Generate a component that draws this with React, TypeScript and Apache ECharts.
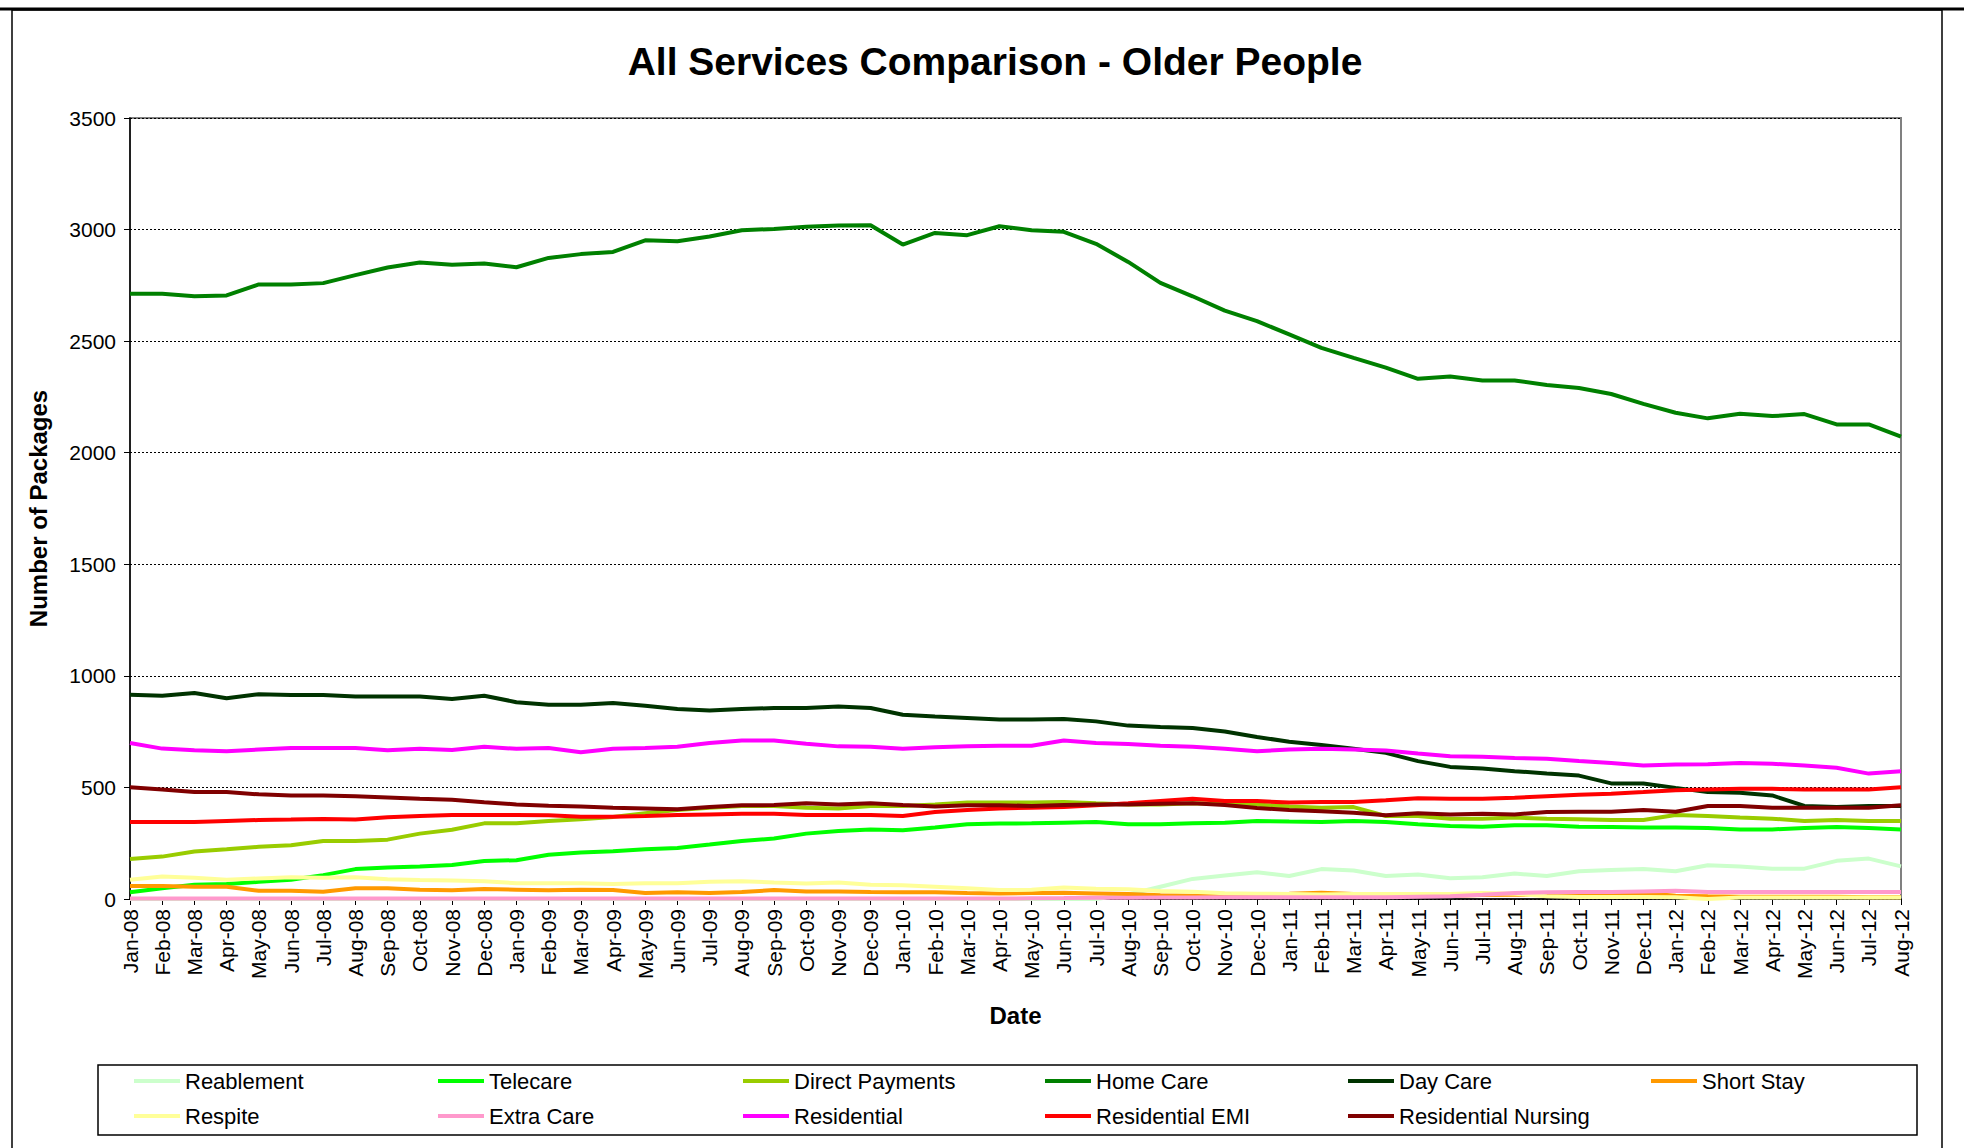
import React, { useEffect, useRef } from "react";
import * as echarts from "echarts";

const months = [
  "Jan-08", "Feb-08", "Mar-08", "Apr-08", "May-08", "Jun-08", "Jul-08", "Aug-08", "Sep-08", "Oct-08", "Nov-08", "Dec-08",
  "Jan-09", "Feb-09", "Mar-09", "Apr-09", "May-09", "Jun-09", "Jul-09", "Aug-09", "Sep-09", "Oct-09", "Nov-09", "Dec-09",
  "Jan-10", "Feb-10", "Mar-10", "Apr-10", "May-10", "Jun-10", "Jul-10", "Aug-10", "Sep-10", "Oct-10", "Nov-10", "Dec-10",
  "Jan-11", "Feb-11", "Mar-11", "Apr-11", "May-11", "Jun-11", "Jul-11", "Aug-11", "Sep-11", "Oct-11", "Nov-11", "Dec-11",
  "Jan-12", "Feb-12", "Mar-12", "Apr-12", "May-12", "Jun-12", "Jul-12", "Aug-12",
];

const yTicks = [0, 500, 1000, 1500, 2000, 2500, 3000, 3500];

const reablement = [
  0, 0, 0, 0, 0, 0, 0, 0, 0, 0, 0, 0,
  0, 0, 0, 0, 0, 0, 0, 0, 0, 0, 0, 0,
  0, 0, 0, 0, 0, 0, 0, 20, 55, 90, 105, 120,
  103, 134, 128, 103, 110, 93, 97, 114, 103, 124, 130, 134,
  124, 151, 146, 136, 136, 171, 181, 146,
];

const telecare = [
  30, 48, 64, 67, 77, 86, 107, 134, 141, 146, 152, 170,
  174, 198, 208, 214, 223, 229, 244, 260, 271, 293, 305, 312,
  308, 320, 335, 338, 339, 342, 345, 335, 335, 339, 342, 350,
  347, 345, 350, 345, 335, 327, 324, 330, 330, 324, 323, 320,
  320, 318, 312, 312, 318, 323, 318, 312,
];

const directPayments = [
  179, 190, 213, 223, 234, 241, 260, 260, 266, 293, 310, 339,
  339, 350, 357, 368, 384, 399, 409, 417, 417, 409, 406, 417,
  417, 424, 432, 432, 432, 435, 429, 424, 424, 429, 427, 424,
  414, 409, 412, 372, 372, 360, 360, 365, 360, 357, 354, 354,
  376, 372, 365, 360, 350, 354, 350, 350,
];

const homeCare = [
  2712, 2712, 2701, 2705, 2754, 2754, 2760, 2796, 2830, 2852, 2842, 2848,
  2831, 2873, 2890, 2900, 2952, 2948, 2969, 2997, 3003, 3013, 3018, 3019,
  2933, 2985, 2975, 3015, 2997, 2990, 2936, 2855, 2761, 2701, 2637, 2590,
  2530, 2470, 2425, 2381, 2331, 2342, 2324, 2324, 2303, 2290, 2263, 2219,
  2179, 2154, 2175, 2164, 2173, 2127, 2127, 2072,
];

const dayCare = [
  915, 911, 923, 900, 918, 914, 914, 908, 908, 908, 896, 911,
  882, 870, 870, 878, 866, 851, 845, 851, 856, 856, 863, 856,
  826, 818, 811, 804, 804, 807, 796, 777, 771, 766, 751, 726,
  705, 690, 673, 655, 618, 592, 585, 573, 562, 553, 518, 518,
  498, 479, 476, 464, 417, 412, 417, 417,
];

const shortStay = [
  58, 58, 55, 55, 37, 37, 33, 48, 48, 42, 39, 45,
  42, 39, 42, 40, 27, 30, 27, 31, 40, 34, 34, 31,
  30, 30, 27, 25, 27, 28, 25, 22, 17, 15, 18, 22,
  24, 28, 22, 22, 18, 15, 18, 19, 19, 18, 19, 27,
  15, 12, 10, 10, 10, 10, 8, 8,
];

const respite = [
  86, 101, 95, 86, 92, 98, 95, 98, 89, 85, 83, 79,
  71, 71, 71, 67, 71, 71, 77, 80, 74, 70, 74, 64,
  62, 55, 48, 40, 41, 52, 46, 44, 36, 33, 26, 24,
  22, 20, 22, 22, 22, 22, 27, 24, 12, 9, 9, 9,
  8, 0, 7, 7, 7, 7, 7, 7,
];

const extraCare = [
  2, 2, 2, 2, 2, 2, 2, 2, 2, 2, 2, 2,
  2, 2, 2, 2, 2, 2, 2, 2, 2, 2, 2, 2,
  2, 2, 2, 2, 3, 4, 6, 6, 7, 7, 8, 8,
  8, 8, 8, 8, 10, 12, 19, 27, 30, 31, 31, 34,
  37, 31, 31, 31, 31, 31, 31, 31,
];

const residential = [
  699, 674, 667, 662, 670, 677, 677, 677, 667, 673, 668, 682,
  673, 677, 658, 673, 677, 682, 699, 710, 710, 696, 684, 682,
  673, 680, 684, 687, 687, 710, 699, 695, 687, 682, 673, 662,
  670, 673, 670, 665, 652, 640, 637, 632, 628, 618, 610, 598,
  603, 604, 610, 606, 598, 588, 562, 573,
];

const residentialEMI = [
  345, 345, 345, 350, 354, 356, 359, 356, 366, 372, 376, 376,
  376, 375, 369, 369, 372, 376, 379, 382, 382, 376, 376, 376,
  372, 390, 399, 406, 409, 412, 420, 429, 439, 449, 439, 439,
  432, 435, 435, 443, 452, 449, 449, 454, 461, 467, 472, 479,
  487, 491, 494, 494, 491, 491, 491, 501,
];

const residentialNursing = [
  501, 491, 479, 479, 469, 464, 464, 460, 455, 449, 445, 434,
  424, 418, 414, 409, 406, 402, 412, 420, 421, 429, 423, 429,
  421, 415, 420, 420, 417, 421, 424, 424, 427, 429, 421, 408,
  399, 393, 387, 375, 384, 379, 382, 379, 390, 391, 391, 399,
  391, 417, 417, 409, 409, 409, 409, 420,
];

const seriesNames = [
  "Reablement", "Telecare", "Direct Payments", "Home Care", "Day Care", "Short Stay",
  "Respite", "Extra Care", "Residential", "Residential EMI", "Residential Nursing",
];
const seriesData = [
  reablement, telecare, directPayments, homeCare, dayCare, shortStay,
  respite, extraCare, residential, residentialEMI, residentialNursing,
];
const seriesColors = [
  "#CCFFCC", "#00FF00", "#99CC00", "#008000", "#003300", "#FF9900",
  "#FFFF99", "#FF99CC", "#FF00FF", "#FF0000", "#800000",
];

const legendColumns = [
  ["Reablement", "Respite"],
  ["Telecare", "Extra Care"],
  ["Direct Payments", "Residential"],
  ["Home Care", "Residential EMI"],
  ["Day Care", "Residential Nursing"],
  ["Short Stay"],
];
const legendLefts = [129, 433, 738, 1040, 1343, 1646];

const FONT = "'Liberation Sans', Arial, sans-serif";

export default function App() {
  const ref = useRef<HTMLDivElement>(null);

  useEffect(() => {
    if (!ref.current) return;
    const chart = echarts.init(ref.current, undefined, { renderer: "svg" });
    const option: any = {
      animation: false,
      backgroundColor: "#ffffff",
      textStyle: { fontFamily: FONT },
      title: {
        text: "All Services Comparison - Older People",
        left: 990,
        top: 37,
        textAlign: "center",
        textStyle: { fontSize: 39, fontWeight: "bold", color: "#000", fontFamily: FONT },
      },
      grid: {
        left: 130,
        right: 63,
        top: 118,
        bottom: 249,
        show: true,
        borderColor: "#808080",
        borderWidth: 2,
        backgroundColor: "#ffffff",
      },
      xAxis: {
        type: "category",
        data: months,
        boundaryGap: false,
        name: "Date",
        nameLocation: "middle",
        nameGap: 104,
        nameTextStyle: { fontSize: 24, fontWeight: "bold", color: "#000", fontFamily: FONT },
        axisLine: { lineStyle: { color: "#000", width: 1.5 } },
        axisTick: { show: true, length: 6, interval: 0, lineStyle: { color: "#000" } },
        axisLabel: { rotate: 90, interval: 0, fontSize: 21, color: "#000", margin: 10, fontFamily: FONT },
        splitLine: { show: false },
      },
      yAxis: {
        type: "value",
        min: yTicks[0],
        max: yTicks[yTicks.length - 1],
        interval: 500,
        name: "Number of Packages",
        nameLocation: "middle",
        nameGap: 80,
        nameTextStyle: { fontSize: 24, fontWeight: "bold", color: "#000", fontFamily: FONT },
        axisLine: { show: true, lineStyle: { color: "#000", width: 1.5 } },
        axisTick: { show: true, length: 6, lineStyle: { color: "#000" } },
        axisLabel: {
          fontSize: 21,
          color: "#000",
          margin: 14,
          fontFamily: FONT,
          formatter: (v: number) => String(v),
        },
        splitLine: { show: true, lineStyle: { color: "#000", width: 1, type: [2, 2] } },
      },
      legend: legendColumns.map((col, i) => ({
        orient: "vertical",
        left: legendLefts[i],
        top: 1065,
        itemWidth: 46,
        itemHeight: 4,
        itemGap: 13,
        icon: "rect",
        data: col,
        textStyle: { fontSize: 22, color: "#000", fontFamily: FONT },
      })),
      graphic: [
        {
          type: "rect",
          shape: { x: 12, y: 10, width: 1930, height: 1200 },
          style: { fill: "none", stroke: "#000", lineWidth: 1.5 },
          z: -1,
        },
        {
          type: "line",
          shape: { x1: 0, y1: 9, x2: 1964, y2: 9 },
          style: { stroke: "#000", lineWidth: 3 },
        },
        {
          type: "rect",
          shape: { x: 98, y: 1065, width: 1819, height: 70 },
          style: { fill: "none", stroke: "#000", lineWidth: 1.5 },
        },
      ],
      series: seriesNames.map((name, i) => ({
        name,
        type: "line",
        data: seriesData[i],
        symbol: "none",
        showSymbol: false,
        smooth: false,
        color: seriesColors[i],
        lineStyle: { width: 4, color: seriesColors[i] },
        emphasis: { disabled: true },
      })),
    };
    chart.setOption(option);
    return () => chart.dispose();
  }, []);

  return (
    <div
      ref={ref}
      style={{ position: "fixed", left: 0, top: 0, width: 1964, height: 1148, background: "#fff" }}
    />
  );
}
